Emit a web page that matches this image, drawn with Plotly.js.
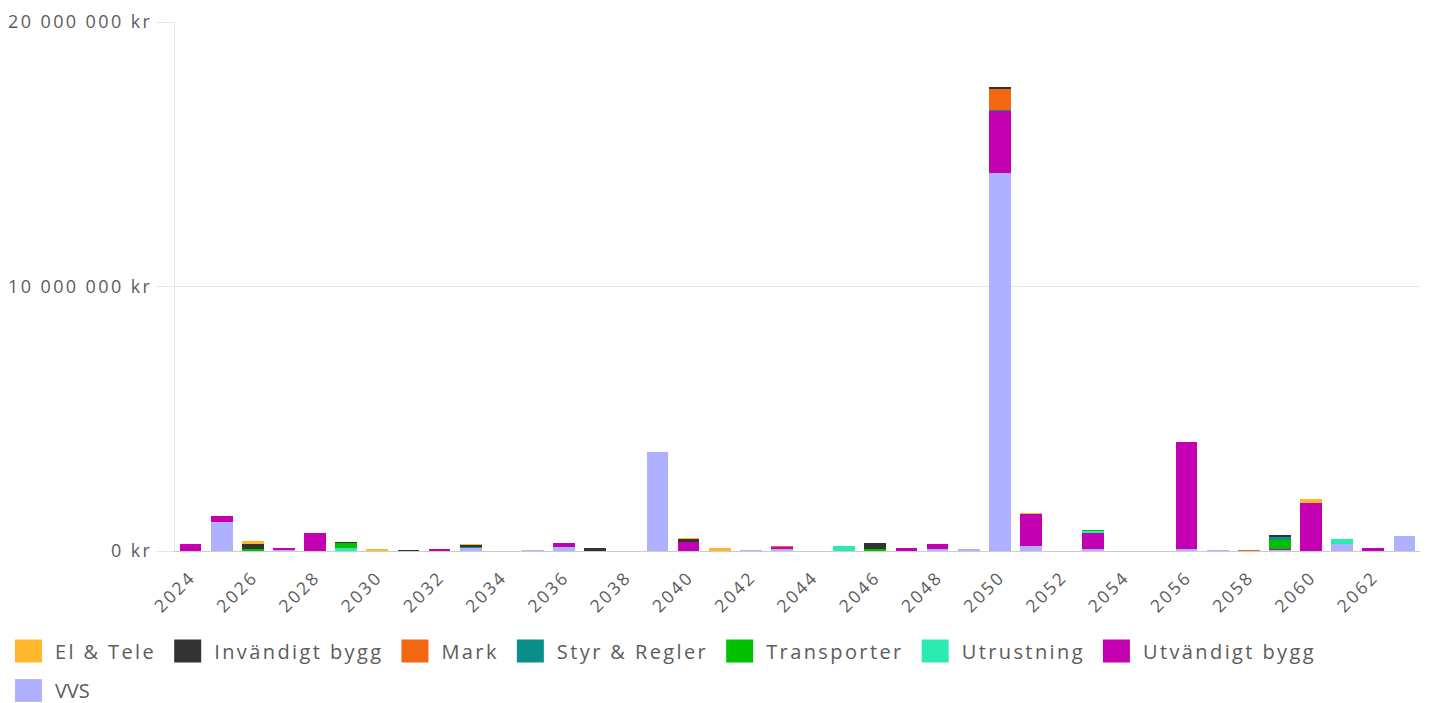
<!DOCTYPE html>
<html>
<head>
<meta charset="utf-8">
<script src="https://cdn.plot.ly/plotly-3.0.1.min.js"></script>
<style>
html,body{margin:0;padding:0;background:#fff;}
#chart{width:1430px;height:703px;}
.legendtext{letter-spacing:2.4px;}
.xtick text, .ytick text{letter-spacing:2.4px;}
/* bigger rectangular legend swatches (keeps plotly's centring translate) */
#chart .legendpoints path{transform:translate(26.5px,0px) scale(2.25,1.9);}
</style>
</head>
<body>
<div id="chart"></div>
<script>
// Years 2024..2063
const years = [2024,2025,2026,2027,2028,2029,2030,2031,2032,2033,2034,2035,2036,2037,2038,2039,2040,2041,2042,2043,2044,2045,2046,2047,2048,2049,2050,2051,2052,2053,2054,2055,2056,2057,2058,2059,2060,2061,2062,2063];

// values in thousands of kr
//                   24     25     26    27    28    29    30    31    32    33  34  35    36    37  38      39    40    41    42    43  44    45    46    47    48    49       50      51  52    53  54  55      56    57    58    59      60    61    62    63
const elTele      = [0,     0,    125,    0,    0,    0,   75,    0,    0,   15,  0,  0,    0,    0,  0,      0,   20,  125,    0,    0,  0,    0,    0,    0,    0,    0,       0,     15,  0,    0,  0,  0,      0,    0,    0,    0,    150,   12,    0,    0];
const invandigt   = [0,     0,    190,    0,    0,   30,    0,   15,    0,   90,  0,  0,    0,  125,  0,      0,  110,    0,    0,    0,  0,    0,  225,    0,    0,    0,      90,      0,  0,    0,  0,  0,      0,    0,    0,   90,      0,    0,    0,   15];
const mark        = [0,     0,      0,    0,    0,    0,    0,   10,    0,    0,  0,  0,    0,    0,  0,      0,    0,    0,    0,   20,  0,    0,    0,    0,   12,    0,     805,      0,  0,    0,  0,  0,      0,    0,   20,    0,      0,    0,    0,    0];
const styr        = [0,     0,      0,   25,    0,    0,    0,    0,    0,   45,  0,  0,    0,    0,  0,      0,    0,    0,    0,    0,  0,    0,    0,    0,    0,    0,      10,      0,  0,    0,  0,  0,      0,    0,    0,   90,      0,    0,    0,    0];
const transporter = [0,     0,     45,    0,    0,  190,    0,    0,    0,    0,  0,  0,    0,    0,  0,      0,    0,    0,    0,    0,  0,    0,   60,    0,    0,    0,       0,      0,  0,   12,  0,  0,      0,    0,    0,  340,      0,    0,    0,    0];
const utrustning  = [0,     0,     15,    0,    0,  125,    0,    0,    0,    0,  0,  0,    0,    0,  0,      0,    0,    0,    0,    0,  0,  160,    0,    0,    0,    0,      15,      0,  0,   75,  0,  0,      0,    0,    0,    0,      0,  200,    0,    0];
const utvandigt   = [265, 240,      0,   50,  670,    0,    0,    0,   60,    0,  0,  0,  150,    0,  0,      0,  350,    0,    0,   90,  0,    0,    0,  100,  190,    0,    2330,   1240,  0,  600,  0,  0,   4070,    0,    0,   60,   1830,    0,  125,    0];
const vvs         = [0,  1100,      0,   50,   15,    0,    0,    0,    0,  100,  0, 20,  140,    0,  0,   3760,    0,    0,   35,   65,  0,   15,    0,   15,   65,   90,   14300,    175,  0,   90,  0,  0,     60,   25,    0,   25,      0,  250,    0,  560];

// stacking order, bottom to top
const seriesNames  = ["VVS","Utvändigt bygg","Utrustning","Transporter","Styr & Regler","Mark","Invändigt bygg","El & Tele"];
const seriesValues = [vvs, utvandigt, utrustning, transporter, styr, mark, invandigt, elTele];
const seriesColors = ["#AFB1FF","#C300B2","#2BEBB3","#00C000","#0A8E8A","#F26711","#333333","#FFB72B"];

const yTickVals = [0, 10000000, 20000000];
const yTickText = ["0 kr","10 000 000 kr","20 000 000 kr"];

const FONT = '"Open Sans", "Noto Sans", sans-serif';
const TXT = '#5c5c5c';

// legend wraps after "Utvändigt bygg": VVS goes on a second row (legend2)
const traces = seriesNames.map((name, i) => ({
  type: 'bar',
  name: name,
  legend: (name === "VVS") ? 'legend2' : 'legend',
  x: years,
  y: seriesValues[i].map(v => v * 1000),
  marker: {color: seriesColors[i], line: {width: 0}}
}));

const legendBase = {
  orientation: 'h',
  traceorder: 'reversed',
  xref: 'paper',
  yref: 'paper',
  x: -0.139,
  xanchor: 'left',
  yanchor: 'top',
  itemwidth: 43,
  bgcolor: 'rgba(0,0,0,0)',
  font: {size: 20, color: TXT, family: FONT},
  itemclick: false
};

const layout = {
  width: 1430,
  height: 703,
  barmode: 'stack',
  bargap: 0.3,
  paper_bgcolor: '#ffffff',
  plot_bgcolor: '#ffffff',
  font: {family: FONT, color: TXT, size: 17},
  margin: {l: 175, r: 10, t: 22, b: 152, autoexpand: false},
  xaxis: {
    range: [2023.5, 2063.5],
    tickmode: 'linear',
    tick0: 2024,
    dtick: 2,
    tickangle: -45,
    tickfont: {size: 17.5, color: TXT},
    ticklabelstandoff: 8,
    showgrid: false,
    showline: true,
    linecolor: '#cccccc',
    linewidth: 1,
    ticks: '',
    zeroline: false
  },
  yaxis: {
    range: [0, 20000000],
    tickmode: 'array',
    tickvals: yTickVals,
    ticktext: yTickText,
    tickfont: {size: 18, color: TXT},
    ticks: 'outside',
    ticklen: 18,
    tickcolor: '#e6e6e6',
    showgrid: true,
    gridcolor: '#e6e6e6',
    showline: true,
    linecolor: '#e6e6e6',
    zeroline: false
  },
  legend: Object.assign({}, legendBase, {y: -0.1522}),
  legend2: Object.assign({}, legendBase, {y: -0.2268}),
  showlegend: true
};

Plotly.newPlot('chart', traces, layout, {displayModeBar: false, staticPlot: true});
</script>
</body>
</html>
